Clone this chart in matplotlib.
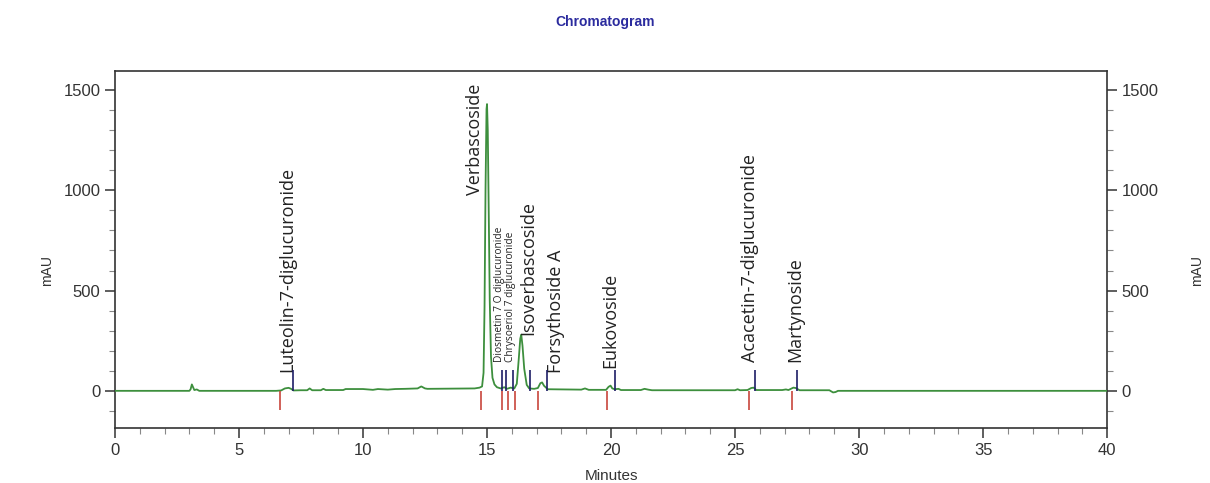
import numpy as np
from matplotlib import pyplot as plt
from matplotlib.ticker import MultipleLocator

# trace (minutes, mAU)
trace_t = [0.0, 3.0, 3.05, 3.1, 3.15, 3.2, 3.3, 3.4, 6.5, 6.7, 6.85, 7.0, 7.1, 7.2, 7.5,
           7.75, 7.85, 7.95, 8.3, 8.4, 8.5, 9.2, 9.3, 10.0, 10.4, 10.6, 11.0, 11.3, 11.7,
           12.2, 12.35, 12.5, 12.6, 14.5, 14.7, 14.8, 14.86, 14.9, 14.94, 14.98, 15.0,
           15.03, 15.07, 15.11, 15.16, 15.22, 15.3, 15.4, 15.55, 15.7, 15.8, 15.95, 16.1,
           16.2, 16.28, 16.34, 16.38, 16.43, 16.5, 16.6, 16.7, 16.9, 17.05, 17.15, 17.22,
           17.3, 17.45, 18.8, 18.95, 19.1, 19.8, 19.9, 19.98, 20.05, 20.15, 20.3, 20.4,
           21.2, 21.35, 21.5, 21.65, 25.0, 25.1, 25.2, 25.5, 25.65, 25.75, 25.85, 26.9,
           27.05, 27.15, 27.35, 27.45, 27.6, 28.8, 28.95, 29.05, 29.15, 40.0]
trace_y = [0, 0, 8, 32, 18, 4, 7, 0, 0, 2, 12, 15, 10, 2, 3,
           3, 12, 3, 3, 10, 4, 4, 9, 9, 5, 9, 6, 9, 10,
           12, 22, 12, 10, 12, 16, 22, 90, 420, 1010, 1405, 1430,
           1300, 880, 450, 170, 65, 32, 18, 12, 18, 10, 16, 12,
           35, 160, 260, 280, 225, 110, 30, 12, 10, 14, 38, 42,
           25, 8, 6, 12, 5, 5, 20, 26, 12, 8, 10, 4,
           4, 10, 6, 3, 3, 8, 3, 4, 14, 16, 4, 4,
           7, 4, 16, 14, 3, 3, -8, -6, 0, 0]

# peak start (red) and end (blue) marks, minutes
start_marks = [6.65, 14.74, 15.59, 15.86, 16.13, 17.07, 19.83, 25.56, 27.28]
end_marks = [7.17, 15.59, 15.75, 16.06, 16.73, 17.43, 20.16, 25.8, 27.51]

# peak labels: name, x (min), y of text start (mAU), font size
label_names = ['Luteolin-7-diglucuronide', 'Verbascoside', 'Diosmetin 7 O diglucuronide',
               'Chrysoeriol 7 diglucuronide', 'Isoverbascoside', 'Forsythoside A',
               'Eukovoside', 'Acacetin-7-diglucuronide', 'Martynoside']
label_x = [6.94, 14.52, 15.52, 15.93, 16.65, 17.8, 19.96, 25.6, 27.42]
label_y = [95, 975, 145, 145, 280, 90, 115, 145, 145]
label_size = [13, 13, 7.3, 7.3, 13, 13, 13, 13, 13]

fig = plt.figure(figsize=(12.1, 4.83), dpi=100)
ax = fig.add_axes([0.095, 0.114, 0.82, 0.739])

ax.plot(trace_t, trace_y, color='#3d8f3d', lw=1.3, zorder=3)
ax.vlines(start_marks, -95, 0, color='#c8453c', lw=1.2, zorder=4)
ax.vlines(end_marks, 0, 105, color='#1e1e66', lw=1.2, zorder=4)

for name, x, y, s in zip(label_names, label_x, label_y, label_size):
    ax.text(x, y, name, rotation=90, ha='center', va='bottom', fontsize=s,
            family='Open Sans', color='#222222')

ax.set_xlim(0, 40)
ax.set_ylim(-185, 1595)
ax.xaxis.set_major_locator(MultipleLocator(5))
ax.xaxis.set_minor_locator(MultipleLocator(1))
ax.yaxis.set_major_locator(MultipleLocator(500))
ax.yaxis.set_minor_locator(MultipleLocator(100))
ax.tick_params(which='both', direction='out', right=True, labelright=True,
               labelsize=12, colors='#333333')
ax.tick_params(which='major', length=7, width=1.1)
ax.tick_params(which='minor', length=4, width=0.8, colors='#888888')
for sp in ax.spines.values():
    sp.set_color('#333333')
    sp.set_linewidth(1.2)
for lab in ax.get_xticklabels() + ax.get_yticklabels():
    lab.set_family('Liberation Sans')
for lab in ax.yaxis.get_ticklabels(which='major'):
    lab.set_family('Liberation Sans')

ax.set_xlabel('Minutes', family='Liberation Sans', fontsize=11, color='#333333', labelpad=8)
fig.text(0.039, 0.44, 'mAU', rotation=90, ha='center', va='center',
         family='Liberation Sans', fontsize=10, color='#333333')
fig.text(0.9895, 0.44, 'mAU', rotation=90, ha='center', va='center',
         family='Liberation Sans', fontsize=10, color='#333333')
fig.text(0.5, 0.955, 'Chromatogram', ha='center', va='center', fontsize=10,
         fontweight='bold', family='Liberation Sans', color='#2b2b9e')

fig.savefig('out.png', dpi=100)
